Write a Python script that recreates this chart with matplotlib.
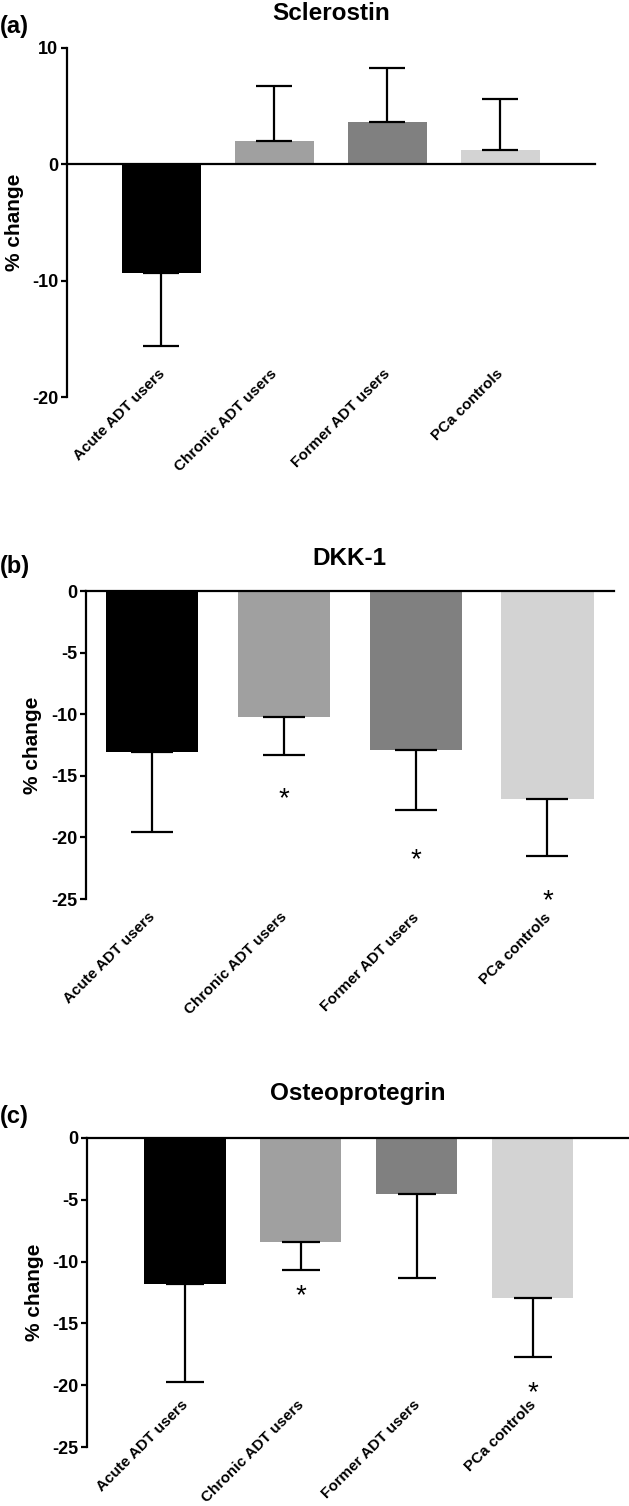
import numpy as np
import matplotlib
matplotlib.use('Agg')
import matplotlib.pyplot as plt
from matplotlib.transforms import offset_copy

plt.rcParams['font.family'] = ['Liberation Sans', 'DejaVu Sans']
plt.rcParams['font.weight'] = 'bold'
plt.rcParams['axes.unicode_minus'] = False

groups = ['Acute ADT users', 'Chronic ADT users', 'Former ADT users', 'PCa controls']
bar_colors = ['#000000', '#a0a0a0', '#808080', '#d3d3d3']

# panel (a) Sclerostin
scl_mean = [-9.35, 2.0, 3.66, 1.23]
scl_sem = [6.3, 4.7, 4.6, 4.4]
scl_stars = [None, None, None, None]

# panel (b) DKK-1
dkk_mean = [-13.08, -10.24, -12.92, -16.89]
dkk_sem = [6.46, 3.11, 4.86, 4.65]
dkk_stars = [None, -16.2, -21.2, -24.5]

# panel (c) Osteoprotegrin
opg_mean = [-11.81, -8.42, -4.57, -12.94]
opg_sem = [7.93, 2.23, 6.72, 4.77]
opg_stars = [None, -12.15, None, -20.0]

W, H = 629, 1506
fig = plt.figure(figsize=(W/100, H/100), dpi=100)


def px_axes(l, r, t, b):
    return fig.add_axes([l/W, 1 - b/H, (r-l)/W, (b-t)/H])


def panel(ax, means, sems, stars, ylim, yticks, xlim, capsize, lab_y, ylab_x,
          letter, letter_y, title, title_y):
    x = np.arange(len(groups))
    ax.bar(x, means, width=0.7, color=bar_colors, edgecolor='none', zorder=2)
    lo = [s if m < 0 else 0 for m, s in zip(means, sems)]
    hi = [s if m >= 0 else 0 for m, s in zip(means, sems)]
    ax.errorbar(x, means, yerr=[lo, hi], fmt='none', ecolor='black', elinewidth=1.6,
                capsize=capsize, capthick=1.6, zorder=3)
    ax.axhline(0, color='black', lw=1.6, clip_on=False, zorder=4)
    for xi, s in zip(x, stars):
        if s is None:
            continue
        tr = offset_copy(ax.transData, fig=fig, x=0, y=-0.556*20, units='points')
        ax.text(xi, s, '*', fontsize=20, fontweight='normal', ha='center', va='baseline', transform=tr)
    ax.set_xlim(*xlim)
    ax.set_ylim(*ylim)
    ax.set_yticks(yticks)
    ax.set_yticklabels([str(v) for v in yticks], fontsize=13, fontweight='bold')
    ax.tick_params(axis='y', direction='out', length=4, width=1.6, pad=2)
    ax.set_xticks([])
    for sp in ['top', 'right', 'bottom']:
        ax.spines[sp].set_visible(False)
    ax.spines['left'].set_linewidth(1.6)
    ax.set_ylabel('% change', fontsize=15, fontweight='bold')
    ax.yaxis.set_label_coords(ylab_x, 0.5)
    tr = offset_copy(ax.get_xaxis_transform(), fig=fig, x=-4, y=0, units='dots')
    for xi, g in zip(x, groups):
        ax.text(xi, lab_y, g, rotation=45, rotation_mode='anchor', ha='right', va='top',
                fontsize=11, fontweight='bold', transform=tr, clip_on=False)
    fig.text(0.0, 1 - letter_y/H, letter, fontsize=17, fontweight='bold', va='center', ha='left')
    pos = ax.get_position()
    fig.text((pos.x0 + pos.x1)/2, 1 - title_y/H, title, fontsize=17.5, fontweight='bold',
             ha='center', va='baseline')


ax_a = px_axes(66.5, 595, 48, 397)
panel(ax_a, scl_mean, scl_sem, scl_stars, (-20, 10), [-20, -10, 0, 10], (-0.84, 3.84), 13,
      0.086, -0.080, '(a)', 27, 'Sclerostin', 20)

ax_b = px_axes(85.5, 614, 591, 899)
panel(ax_b, dkk_mean, dkk_sem, dkk_stars, (-25, 0), [-25, -20, -15, -10, -5, 0], (-0.505, 3.505), 15,
      -0.036, -0.082, '(b)', 567, 'DKK-1', 565)

ax_c = px_axes(87, 629, 1138, 1447)
panel(ax_c, opg_mean, opg_sem, opg_stars, (-25, 0), [-25, -20, -15, -10, -5, 0], (-0.845, 3.83), 14,
      0.16, -0.079, '(c)', 1116, 'Osteoprotegrin', 1100)

fig.savefig('out.png', dpi=100)
